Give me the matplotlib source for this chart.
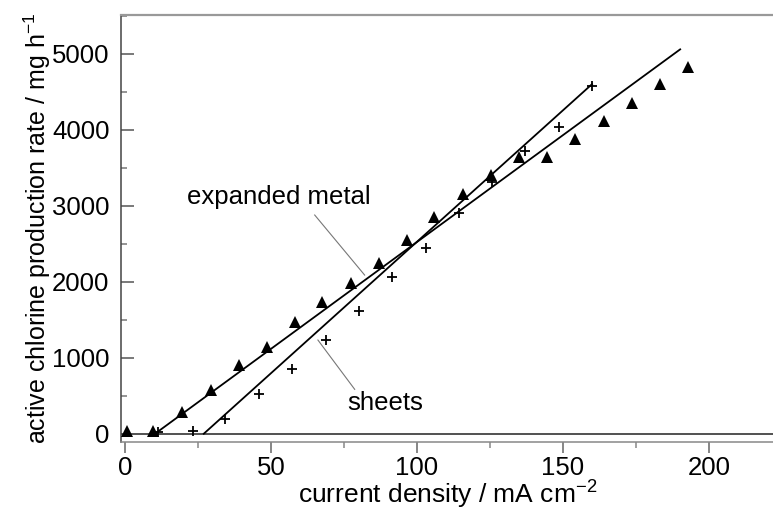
import matplotlib
matplotlib.use("Agg")
import matplotlib.pyplot as plt
from matplotlib.ticker import MultipleLocator

plt.rcParams['font.family'] = ['Liberation Sans', 'DejaVu Sans']
plt.rcParams['mathtext.default'] = 'regular'

# expanded metal electrode (triangles)
em_current = [0.6, 9.7, 19.7, 29.4, 38.9, 48.5, 58.2, 67.6, 77.6, 87.0, 96.6,
              106.0, 115.8, 125.4, 135.1, 144.6, 154.3, 164.0, 173.6, 183.4, 193.0]
em_rate = [30, 40, 290, 570, 900, 1140, 1470, 1730, 1980, 2250, 2550,
           2855, 3160, 3400, 3640, 3640, 3880, 4120, 4355, 4600, 4830]

# sheet electrode (crosses)
sh_current = [11.3, 23.2, 34.2, 46.0, 57.2, 68.8, 80.2, 91.4, 103.0, 114.4,
              125.8, 137.2, 148.6, 160.0]
sh_rate = [20, 30, 190, 520, 850, 1230, 1615, 2060, 2440, 2905,
           3315, 3720, 4040, 4580]

# linear fits
em_fit_x = [10.3, 190.2]
em_fit_y = [0, 5058]
sh_fit_x = [27.0, 160.0]
sh_fit_y = [0, 4600]

fig = plt.figure(figsize=(7.73, 5.12), dpi=100)
ax = fig.add_axes([0.156, 0.1373, 0.844, 0.8334])

ax.axhline(0, color='#222222', lw=1.1, zorder=1)
ax.plot(em_fit_x, em_fit_y, color='black', lw=1.3, zorder=2)
ax.plot(sh_fit_x, sh_fit_y, color='black', lw=1.3, zorder=2)
ax.plot(em_current, em_rate, '^', color='black', ms=8.5, mew=0, zorder=3)
ax.plot(sh_current, sh_rate, '+', color='black', ms=7, mew=1.3, zorder=3)

# labels with leader lines
ax.text(21.2, 3118, 'expanded metal', fontsize=18.5, ha='left', va='center')
ax.plot([65.0, 82.1], [2878, 2088], color='#777777', lw=0.8)
ax.text(76.3, 400, 'sheets', fontsize=18.5, ha='left', va='center')
ax.plot([66.1, 78.7], [1233, 584], color='#777777', lw=0.8)

ax.set_xlim(-1.5, 222)
ax.set_ylim(-105, 5510)
ax.xaxis.set_major_locator(MultipleLocator(50))
ax.xaxis.set_minor_locator(MultipleLocator(25))
ax.yaxis.set_major_locator(MultipleLocator(1000))
ax.yaxis.set_minor_locator(MultipleLocator(500))

ax.spines['right'].set_visible(False)
ax.spines['top'].set_color('#999999')
ax.spines['top'].set_linewidth(1.6)
ax.spines['left'].set_color('#444444')
ax.spines['left'].set_linewidth(1.1)
ax.spines['bottom'].set_color('#888888')
ax.spines['bottom'].set_linewidth(1.1)

ax.tick_params(axis='y', which='major', direction='in', length=9, width=1.1,
               color='#555555', labelsize=18.5, pad=8)
ax.tick_params(axis='y', which='minor', direction='in', length=4, width=1.1,
               color='#777777')
ax.tick_params(axis='x', which='major', direction='out', length=8, width=1.1,
               color='#666666', labelsize=18.5, pad=2)
ax.tick_params(axis='x', which='minor', direction='out', length=4, width=1.1,
               color='#888888')

ax.set_xlabel('current density / mA cm$^{-2}$', fontsize=19)
ax.set_ylabel('active chlorine production rate / mg h$^{-1}$', fontsize=18)
ax.xaxis.label.set_va('center')
ax.yaxis.label.set_va('center')
ax.xaxis.set_label_coords(0.502, -0.125)
ax.yaxis.set_label_coords(-0.127, 0.5)

fig.savefig('out.png', dpi=100)
